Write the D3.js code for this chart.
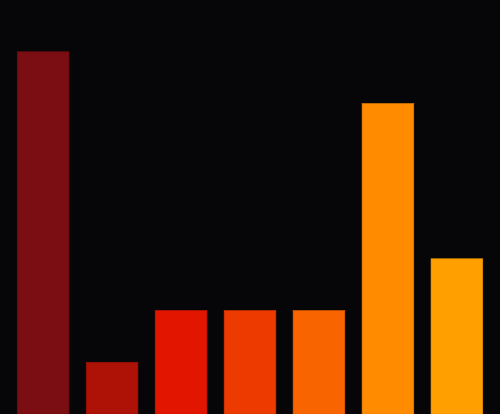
<!doctype html>
<html>
<head>
<meta charset="utf-8">
<style>
  html, body { margin: 0; padding: 0; background: #060608; overflow: hidden; }
</style>
</head>
<body>
<div id="chart"></div>
<script src="https://d3js.org/d3.v7.min.js"></script>
<script>
// data
var categories = ["a", "b", "c", "d", "e", "f", "g"];
var values = [7, 1, 2, 2, 2, 6, 3];
var colors = ["#7a0e12", "#ae1206", "#e21600", "#ec3a00", "#f86400", "#ff8c00", "#ffa000"];

var width = 500, height = 414;

var svg = d3.select("#chart")
  .append("svg")
  .attr("width", width)
  .attr("height", height)
  .style("display", "block")
  .style("background", "#060608");

var x = d3.scaleBand()
  .domain(categories)
  .range([0, width])
  .paddingInner(0.25)
  .paddingOuter(0.25);

var y = d3.scaleLinear()
  .domain([0, 8])
  .range([height, 0]);

svg.selectAll("rect")
  .data(values)
  .enter()
  .append("rect")
  .attr("x", function(d, i) { return x(categories[i]); })
  .attr("y", function(d) { return y(d); })
  .attr("width", x.bandwidth())
  .attr("height", function(d) { return height - y(d); })
  .style("fill", function(d, i) { return colors[i]; })
  .style("stroke", function(d, i) { return d3.color(colors[i]).darker(0.3); })
  .style("stroke-width", 0.6);
</script>
</body>
</html>
